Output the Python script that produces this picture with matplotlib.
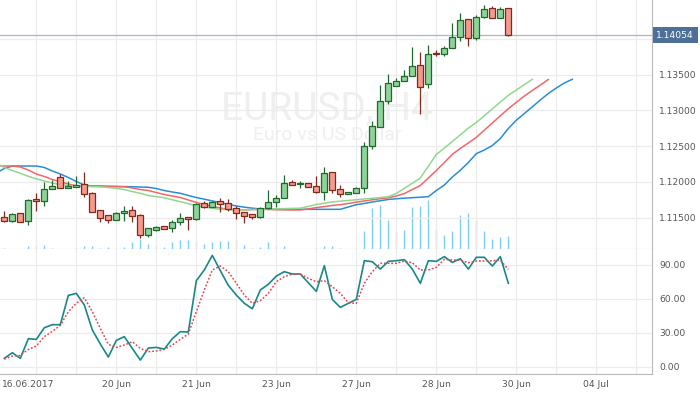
import numpy as np
import matplotlib
matplotlib.use("Agg")
import matplotlib.pyplot as plt
from matplotlib.patches import Rectangle
from matplotlib.transforms import blended_transform_factory, offset_copy, ScaledTranslation

# EURUSD H4 candles, one per bar index
opens = [1.11506, 1.11450, 1.11561, 1.11450, 1.11757, 1.11729, 1.11897, 1.12069, 1.11911, 1.11936,
         1.11971, 1.11841, 1.11603, 1.11534, 1.11464, 1.11561, 1.11603, 1.11534, 1.11254, 1.11324,
         1.11380, 1.11352, 1.11436, 1.11506, 1.11478, 1.11701, 1.11645, 1.11729, 1.11701, 1.11631,
         1.11575, 1.11548, 1.11506, 1.11631, 1.11715, 1.11771, 1.11995, 1.11967, 1.11981, 1.11939,
         1.11855, 1.12135, 1.11897, 1.11827, 1.11841, 1.11911, 1.12499, 1.12764, 1.13128, 1.13338,
         1.13408, 1.13478, 1.13631, 1.13366, 1.13799, 1.13785, 1.13869, 1.14023, 1.14275, 1.14009,
         1.14303, 1.14429, 1.14289, 1.14429]
highs = [1.11594, 1.11561, 1.11561, 1.11757, 1.11850, 1.12004, 1.12027, 1.12111, 1.12009, 1.12083,
         1.12139, 1.11855, 1.11603, 1.11534, 1.11580, 1.11659, 1.11659, 1.11548, 1.11352, 1.11380,
         1.11380, 1.11464, 1.11561, 1.11506, 1.11701, 1.11729, 1.11729, 1.11771, 1.11757, 1.11659,
         1.11575, 1.11548, 1.11645, 1.11883, 1.11813, 1.12093, 1.12023, 1.12009, 1.11981, 1.12079,
         1.12205, 1.12135, 1.11953, 1.11855, 1.11925, 1.12555, 1.12848, 1.13352, 1.13506, 1.13450,
         1.13562, 1.13883, 1.13813, 1.13911, 1.13841, 1.13897, 1.14219, 1.14359, 1.14275, 1.14331,
         1.14471, 1.14457, 1.14443, 1.14429]
lows = [1.11444, 1.11444, 1.11436, 1.11402, 1.11589, 1.11668, 1.11897, 1.11911, 1.11911, 1.11936,
        1.11794, 1.11575, 1.11444, 1.11430, 1.11464, 1.11450, 1.11436, 1.11212, 1.11226, 1.11314,
        1.11338, 1.11296, 1.11394, 1.11324, 1.11464, 1.11631, 1.11645, 1.11575, 1.11589, 1.11478,
        1.11422, 1.11478, 1.11492, 1.11617, 1.11645, 1.11771, 1.11953, 1.11911, 1.11925, 1.11841,
        1.11743, 1.11841, 1.11785, 1.11827, 1.11841, 1.11841, 1.12457, 1.12764, 1.13086, 1.13338,
        1.13408, 1.13478, 1.12946, 1.13310, 1.13757, 1.13757, 1.13869, 1.13967, 1.13897, 1.13981,
        1.14289, 1.14289, 1.14289, 1.14037]
closes = [1.11458, 1.11548, 1.11444, 1.11743, 1.11729, 1.11897, 1.11939, 1.11911, 1.11939, 1.11964,
          1.11827, 1.11584, 1.11492, 1.11464, 1.11561, 1.11589, 1.11520, 1.11254, 1.11352, 1.11366,
          1.11338, 1.11436, 1.11492, 1.11478, 1.11687, 1.11645, 1.11715, 1.11687, 1.11617, 1.11561,
          1.11520, 1.11506, 1.11631, 1.11715, 1.11771, 1.11981, 1.11953, 1.11981, 1.11925, 1.11855,
          1.12121, 1.11883, 1.11827, 1.11855, 1.11911, 1.12499, 1.12778, 1.13128, 1.13380, 1.13408,
          1.13478, 1.13617, 1.13324, 1.13785, 1.13785, 1.13869, 1.14023, 1.14261, 1.14009, 1.14303,
          1.14415, 1.14289, 1.14415, 1.14054]
volumes = [320, 100, 100, 660, 660, 860, 260, 100, 100, 460,
           660, 660, 260, 460, 100, 460, 1460, 2060, 1060, 660,
           460, 1460, 1860, 1860, 1460, 1060, 1460, 1660, 1660, 1860,
           860, 260, 460, 1460, 660, 660, 100, 100, 100, 460,
           660, 660, 260, 100, 100, 3660, 8200, 8860, 5860, 3500,
           3860, 8500, 8700, 9860, 3860, 2860, 3660, 6860, 7260, 5860,
           3660, 2060, 2460, 2660]

# alligator lines (shifted forward), first value is one bar before the first candle
jaw = [1.12125, 1.12188, 1.12223, 1.12223, 1.12223, 1.12223, 1.12202, 1.12153, 1.12111, 1.12062,
       1.12006, 1.11957, 1.11943, 1.11943, 1.11940, 1.11938, 1.11935, 1.11933, 1.11929, 1.11925,
       1.11908, 1.11880, 1.11859, 1.11841, 1.11810, 1.11782, 1.11759, 1.11734, 1.11711, 1.11686,
       1.11664, 1.11647, 1.11633, 1.11622, 1.11617, 1.11617, 1.11617, 1.11617, 1.11617, 1.11617,
       1.11617, 1.11617, 1.11617, 1.11617, 1.11650, 1.11682, 1.11699, 1.11720, 1.11737, 1.11755,
       1.11765, 1.11773, 1.11780, 1.11786, 1.11794, 1.11880, 1.11957, 1.12069, 1.12163, 1.12272,
       1.12396, 1.12447, 1.12510, 1.12608, 1.12747, 1.12864, 1.12957, 1.13051, 1.13146, 1.13237,
       1.13314, 1.13384, 1.13436]
teeth = [1.12223, 1.12223, 1.12223, 1.12209, 1.12167, 1.12111, 1.12076, 1.12034, 1.12003, 1.11971,
         1.11946, 1.11940, 1.11938, 1.11936, 1.11935, 1.11933, 1.11933, 1.11915, 1.11894, 1.11880,
         1.11852, 1.11824, 1.11803, 1.11782, 1.11748, 1.11713, 1.11685, 1.11657, 1.11636, 1.11617,
         1.11610, 1.11608, 1.11613, 1.11617, 1.11615, 1.11612, 1.11609, 1.11608, 1.11608, 1.11622,
         1.11641, 1.11655, 1.11671, 1.11682, 1.11699, 1.11717, 1.11734, 1.11751, 1.11765, 1.11779,
         1.11803, 1.11838, 1.11894, 1.11950, 1.12055, 1.12160, 1.12271, 1.12387, 1.12469, 1.12545,
         1.12624, 1.12724, 1.12824, 1.12925, 1.13024, 1.13114, 1.13202, 1.13279, 1.13356, 1.13433]
lips = [1.12258, 1.12202, 1.12160, 1.12121, 1.12079, 1.12044, 1.12013, 1.11985, 1.11964, 1.11950,
        1.11943, 1.11939, 1.11935, 1.11933, 1.11922, 1.11910, 1.11894, 1.11866, 1.11841, 1.11810,
        1.11795, 1.11778, 1.11750, 1.11724, 1.11696, 1.11668, 1.11647, 1.11632, 1.11617, 1.11613,
        1.11609, 1.11609, 1.11613, 1.11617, 1.11622, 1.11625, 1.11627, 1.11630, 1.11633, 1.11657,
        1.11685, 1.11702, 1.11720, 1.11731, 1.11741, 1.11751, 1.11762, 1.11772, 1.11782, 1.11793,
        1.11839, 1.11910, 1.11981, 1.12055, 1.12220, 1.12384, 1.12473, 1.12566, 1.12659, 1.12753,
        1.12831, 1.12926, 1.13022, 1.13117, 1.13212, 1.13286, 1.13361, 1.13436]

# stochastic %K / %D
stoch_k = [7.4, 12.4, 7.4, 24.8, 24.2, 34.5, 37.2, 37.2, 63.1, 64.9,
           54.6, 32.5, 20.1, 8.6, 23.3, 26.6, 16.2, 5.9, 16.5, 17.1,
           15.6, 24.8, 31.0, 30.7, 76.1, 85.6, 98.5, 85.0, 72.0, 63.4,
           56.1, 51.3, 67.9, 72.9, 80.2, 84.1, 82.0, 82.0, 74.3, 66.7,
           89.4, 59.6, 52.5, 56.1, 59.6, 93.8, 92.9, 86.4, 93.2, 93.8,
           94.7, 86.4, 73.8, 93.8, 93.2, 97.4, 92.3, 95.6, 86.4, 96.8,
           96.8, 89.1, 97.4, 73.8]
stoch_d = [6.8, 9.4, 10.0, 15.3, 18.3, 26.6, 31.3, 36.6, 48.7, 56.1,
           61.1, 48.7, 33.9, 19.8, 17.1, 19.2, 22.1, 16.2, 13.3, 13.9,
           15.3, 19.2, 24.2, 28.9, 48.7, 67.9, 85.6, 89.1, 84.1, 73.8,
           63.4, 56.1, 58.4, 64.9, 75.2, 79.7, 82.0, 82.0, 78.2, 75.2,
           76.1, 70.8, 64.9, 56.6, 56.1, 73.8, 84.1, 91.5, 91.5, 91.5,
           93.5, 92.0, 85.6, 85.6, 87.9, 95.0, 94.4, 94.4, 92.0, 93.5,
           93.5, 93.8, 94.4, 86.1]

last_price = 1.14054
price_ticks = [1.115, 1.12, 1.125, 1.13, 1.135, 1.14]
osc_ticks = [0, 30, 60, 90]
date_ticks = [4, 14, 24, 34, 44, 54, 64, 74]
date_labels = ["16.06.2017", "20 Jun", "21 Jun", "23 Jun", "27 Jun", "28 Jun", "30 Jun", "04 Jul"]

grid_c = "#ececec"
axis_c = "#b8b8b8"
text_c = "#555555"
fs = 6.6

fig = plt.figure(figsize=(7, 3.94), dpi=100)
ax = fig.add_axes([0, 0.3673, 0.9319, 0.6327])
ax2 = fig.add_axes([0, 0.05, 0.9319, 0.3173], sharex=ax)

# volume on a hidden twin axis behind the price
vax = ax.twinx()
vax.set_zorder(ax.get_zorder() - 1)
ax.patch.set_visible(False)
n = len(closes)
idx = np.arange(n)
vax.vlines(idx, 0, volumes, color="#7ccdfb", lw=1.0, snap=True)
vax.set_ylim(0, 49860)
vax.set_yticks([])
for s in vax.spines.values():
    s.set_visible(False)

# watermark
ax.text(0.5015, 0.521, "EURUSD, H4", transform=ax.transAxes, ha="center", va="baseline",
        fontsize=28, family="Roboto", color="#efefef", zorder=0)
ax.text(0.5015, 0.438, "Euro vs US Dollar", transform=ax.transAxes, ha="center", va="baseline",
        fontsize=14, family="Roboto", color="#efefef", zorder=0)

# alligator
ax.plot(np.arange(-1, len(jaw) - 1), jaw, color="#2a8dd4", lw=1.1, zorder=2)
ax.plot(np.arange(-1, len(teeth) - 1), teeth, color="#f06868", lw=1.1, zorder=2)
ax.plot(np.arange(-1, len(lips) - 1), lips, color="#8fd98f", lw=1.1, zorder=2)

# candles
w = 0.74
for i in range(n):
    o, h, l, c = opens[i], highs[i], lows[i], closes[i]
    if c >= o:
        fc, ec = "#8fd39b", "#1f6a2a"
    else:
        fc, ec = "#f59a8f", "#82281d"
    ax.vlines(i, l, h, color=ec, lw=0.9, zorder=3)
    ax.add_patch(Rectangle((i - w / 2, min(o, c)), w, max(abs(c - o), 0.00003),
                           facecolor=fc, edgecolor=ec, lw=0.9, zorder=4))

# last price line and label
ax.axhline(last_price, color="#a5b6d6", lw=0.9, zorder=1)
tr = offset_copy(blended_transform_factory(ax.transAxes, ax.transData), fig=fig, x=4, y=0, units="dots")
ax.text(1.0, last_price, "%.5f" % last_price, transform=tr, ha="left", va="center",
        color="white", fontsize=fs, clip_on=False,
        bbox=dict(boxstyle="square,pad=0.38", fc="#4d7098", ec="none"))

ax.set_xlim(-0.54, 81.0)
ax.set_ylim(1.11058, 1.14545)
ax.yaxis.tick_right()
ax.set_yticks(price_ticks)
ax.set_yticklabels(["%.5f" % p if p < 1.1399 else "" for p in price_ticks])

# oscillator
ax2.plot(idx, stoch_k, color="#17888a", lw=1.2, zorder=3)
ax2.plot(idx, stoch_d, color="#e4474b", lw=1.1, ls=(0, (1.2, 1.2)), zorder=3)
ax2.set_ylim(-6.7, 103.9)
ax2.yaxis.tick_right()
ax2.set_yticks(osc_ticks)
ax2.set_yticklabels(["%.2f" % v for v in osc_ticks])

ax2.set_xticks(date_ticks)
ax2.set_xticklabels(date_labels)
ax2.set_xticks(np.arange(9, 81, 10), minor=True)

for a in (ax, ax2):
    a.grid(True, which="both", color=grid_c, lw=0.9, zorder=0)
    a.set_axisbelow(True)
    a.tick_params(which="both", length=0, labelsize=fs, labelcolor=text_c, pad=5)
    a.spines["top"].set_visible(False)
    a.spines["left"].set_visible(False)
    a.spines["right"].set_color(axis_c)
    a.spines["bottom"].set_color(axis_c)
ax.tick_params(labelbottom=False)
ax2.tick_params(axis="x", pad=4)

first = ax2.get_xticklabels()[0]
first.set_transform(first.get_transform() + ScaledTranslation(-8 / 100, 0, fig.dpi_scale_trans))

fig.savefig("out.png", dpi=100, facecolor="white")
